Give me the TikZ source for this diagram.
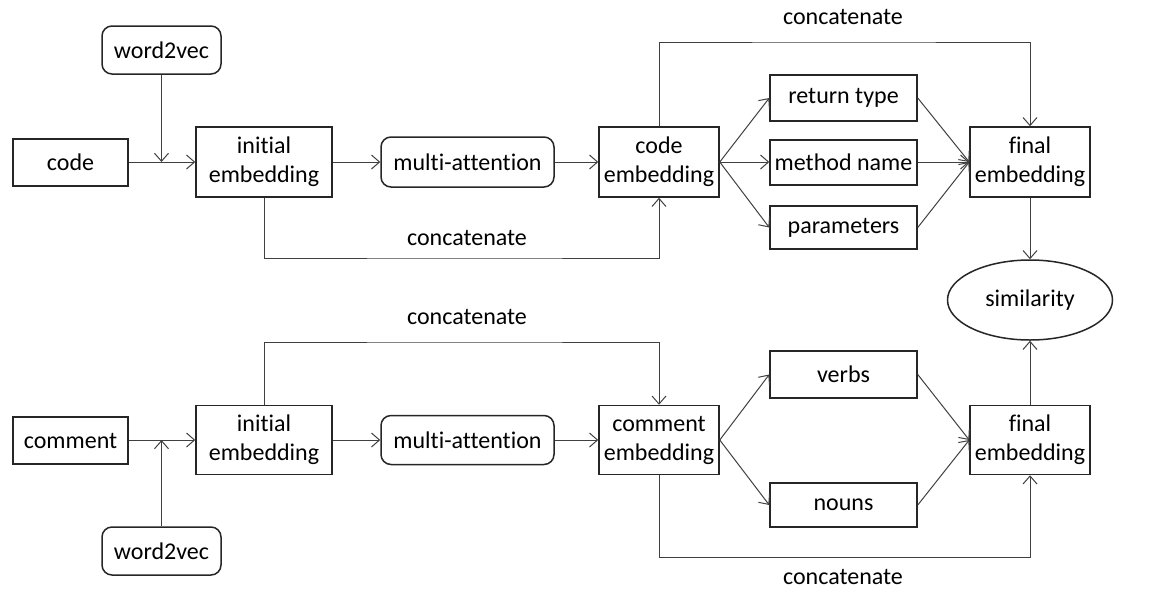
\documentclass[tikz,border=0pt]{standalone}
\usepackage{fontspec}
\setmainfont{Carlito}[Ligatures=NoCommon]
\usetikzlibrary{arrows.meta,shapes.geometric}
\begin{document}
\begin{tikzpicture}[x=0.5pt,y=-0.5pt,
  font=\fontsize{12pt}{14.5pt}\selectfont,
  box/.style={draw=black!85,line width=0.75pt,align=center,inner sep=0pt},
  rbox/.style={box,rounded corners=5pt},
  conn/.style={draw=black!75,line width=0.5pt,-{Straight Barb[length=4pt,width=7pt,line width=0.5pt]}},
  lbl/.style={inner sep=0pt}]
\useasboundingbox (0,0) rectangle (1172,590);
% top row
\node[rbox,minimum width=59.5pt,minimum height=24pt] (w2va) at (161.5,50) {word2vec};
\node[box,minimum width=57.5pt,minimum height=23.5pt] (code) at (70.5,162.5) {code};
\node[box,minimum width=68pt,minimum height=35pt] (inita) at (264,162) {initial\\embedding};
\node[rbox,minimum width=86.5pt,minimum height=25pt] (maa) at (467.5,162) {multi-attention};
\node[box,minimum width=60pt,minimum height=35pt] (ce) at (659,162) {code\\embedding};
\node[box,minimum width=73.5pt,minimum height=23pt] (rt) at (843.5,98) {return type};
\node[box,minimum width=73.5pt,minimum height=22.5pt] (mn) at (843.5,162.5) {method name};
\node[box,minimum width=73.5pt,minimum height=21.5pt] (par) at (843.5,227.5) {parameters};
\node[box,minimum width=60pt,minimum height=35pt] (fea) at (1030,162) {final\\embedding};
\node[draw=black!85,line width=0.75pt,ellipse,minimum width=82.5pt,minimum height=40pt,inner sep=0pt] (sim) at (1030,300) {similarity};
% bottom row
\node[box,minimum width=57.5pt,minimum height=23.5pt] (cmt) at (70.5,440.5) {comment};
\node[box,minimum width=68pt,minimum height=34.5pt] (initb) at (264,440) {initial\\embedding};
\node[rbox,minimum width=86.5pt,minimum height=24.5pt] (mab) at (467.5,440) {multi-attention};
\node[box,minimum width=60pt,minimum height=34.5pt] (cme) at (659,440) {comment\\embedding};
\node[box,minimum width=73.5pt,minimum height=23.5pt] (vb) at (843.5,374.5) {verbs};
\node[box,minimum width=73.5pt,minimum height=22pt] (nn) at (843.5,505) {nouns};
\node[box,minimum width=60pt,minimum height=34.5pt] (feb) at (1030,440) {final\\embedding};
\node[rbox,minimum width=59.5pt,minimum height=24pt] (w2vb) at (161.5,551) {word2vec};
% labels
\node[lbl] (c1) at (467,238) {concatenate};
\node[lbl] (c2) at (843,17) {concatenate};
\node[lbl] (c3) at (467,317) {concatenate};
\node[lbl] (c4) at (843,577) {concatenate};
% junctions
\coordinate (ja) at (w2va.south |- inita.west);
\coordinate (jb) at (w2vb.north |- initb.west);
% top connectors
\draw[conn] (code.east |- inita.west) -- (inita.west);
\draw[conn] (w2va.south) -- (ja);
\draw[conn] (inita) -- (maa);
\draw[conn] (maa) -- (ce);
\draw[conn] (inita.south) |- (c1.south |- 0,258) -| (ce.south);
\draw[conn] (ce.north) |- (c2.south |- 0,42) -| (fea.north);
\draw[conn] (ce.east) -- (rt.west);
\draw[conn] (ce.east) -- (mn.west |- ce.east);
\draw[conn] (ce.east) -- (par.west);
\draw[conn] (rt.east) -- (fea.west);
\draw[conn] (mn.east |- fea.west) -- (fea.west);
\draw[conn] (par.east) -- (fea.west);
\draw[conn] (fea.south) -- (sim.north);
% bottom connectors
\draw[conn] (cmt.east |- initb.west) -- (initb.west);
\draw[conn] (w2vb.north) -- (jb);
\draw[conn] (initb) -- (mab);
\draw[conn] (mab) -- (cme);
\draw[conn] (initb.north) |- (c3.south |- 0,342) -| (cme.north);
\draw[conn] (cme.east) -- (vb.west);
\draw[conn] (cme.east) -- (nn.west);
\draw[conn] (vb.east) -- (feb.west);
\draw[conn] (nn.east) -- (feb.west);
\draw[conn] (cme.south) |- (c4.north |- 0,557) -| (feb.south);
\draw[conn] (feb.north) -- (sim.south);
\end{tikzpicture}
\end{document}
